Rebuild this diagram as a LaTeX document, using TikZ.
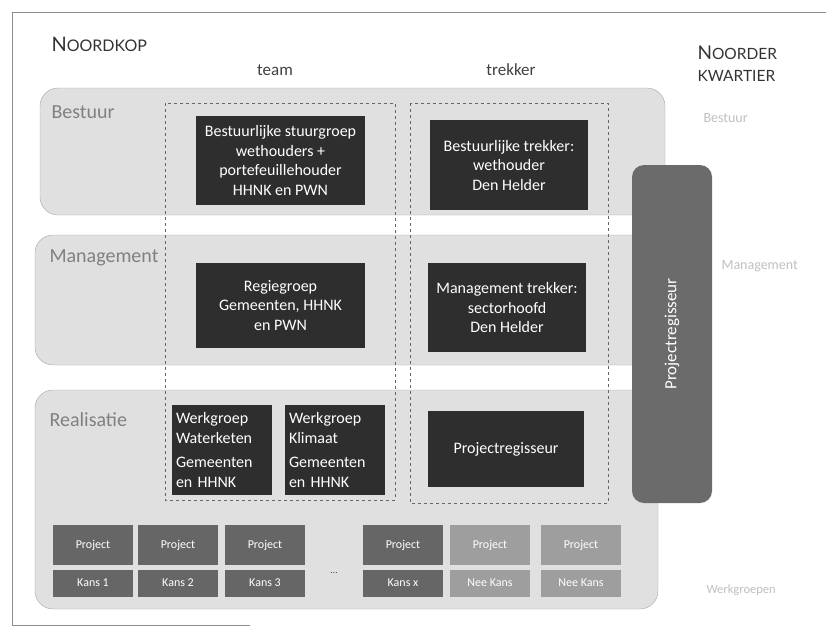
\documentclass[tikz,border=0pt]{standalone}
\usepackage{fontspec}
\setmainfont{Carlito}
\newfontfamily\headfont{Lato}

\begin{document}
\begin{tikzpicture}[x=1pt,y=-1pt,
    band/.style={draw=black!35,fill=black!12,rounded corners=18pt,thin},
    column/.style={draw=black!60,dashed,thin},
    darkbox/.style={fill=black!82,text=white,align=center,inner sep=2pt,
      font=\fontsize{16}{19.5}\selectfont},
    workbox/.style={darkbox,align=left,minimum width=100pt,minimum height=90pt,
      text width=92pt},
    projbox/.style={fill=black!60,text=white,minimum width=80pt,minimum height=40pt,
      inner sep=0pt,font=\fontsize{12}{12}\selectfont},
    kansbox/.style={projbox,minimum height=27pt},
    levellabel/.style={anchor=west,text=black!50,font=\fontsize{20}{20}\selectfont},
    farlabel/.style={anchor=west,text=black!25,font=\fontsize{14}{14}\selectfont},
    colhead/.style={text=black!75,font=\fontsize{17}{17}\selectfont}]
      \useasboundingbox (0,0) rectangle (826,634);
      % scanned page edge
      \draw [black!45,thin] (826,12) -- (12,12) -- (12,625) -- (250,625);
      % headers
      \node [anchor=west,text=black!80,font=\headfont] (nk) at (48,44)
        {{\fontsize{20}{20}\selectfont N}{\fontsize{16}{16}\selectfont OORDKOP}};
      \node [anchor=west,text=black!80,align=left,font=\headfont\fontsize{15.5}{22}\selectfont] (nq) at (694,64)
        {{\fontsize{19}{19}\selectfont N}OORDER\\KWARTIER};
      \node [colhead] (team) at (275,70) {team};
      \node [colhead] (trek) at (511,70) {trekker};
      % levels
      \draw [band] (40,88) rectangle (665,215);
      \draw [band] (35,235) rectangle (665,365);
      \draw [band] (35,390) rectangle (658,609);
      \node [levellabel] (lb) at (48,112) {Bestuur};
      \node [levellabel] (lm) at (46,258) {Management};
      \node [levellabel] (lr) at (46,420) {Realisatie};
      % columns
      \draw [column] (165,103) rectangle (395,500);
      \draw [column] (410,103) rectangle (608,503);
      % boxes
      \node [darkbox,minimum width=169pt,minimum height=89pt] (stuur) at (280.5,160.5)
        {Bestuurlijke stuurgroep\\wethouders +\\portefeuillehouder\\HHNK en PWN};
      \node [darkbox,minimum width=158pt,minimum height=90pt] (btrek) at (509,165)
        {Bestuurlijke trekker:\\wethouder\\Den Helder};
      \node [darkbox,minimum width=169pt,minimum height=85pt] (regie) at (280.5,305.5)
        {Regiegroep\\Gemeenten, HHNK\\en PWN};
      \node [darkbox,minimum width=158pt,minimum height=89pt] (mtrek) at (507,307.5)
        {Management trekker:\\sectorhoofd\\Den Helder};
      \node [workbox] (water) at (222,450)
        {Werkgroep\\Waterketen\\[5pt]Gemeenten\\en HHNK};
      \node [workbox] (klim) at (335,450)
        {Werkgroep\\Klimaat\\[5pt]Gemeenten\\en HHNK};
      \node [darkbox,minimum width=156pt,minimum height=76pt] (preg) at (506,449)
        {Projectregisseur};
      \node [fill=black!58,text=white,rounded corners=12pt,rotate=90,minimum width=338pt,
        minimum height=80pt,font=\fontsize{17}{17}\selectfont] (bar) at (672,334) {Projectregisseur};
      % projects
      \foreach \x/\k in {93/Kans 1,178/Kans 2,265/Kans 3,403/Kans x} {
        \node [projbox] (p\x) at (\x,545) {Project};
        \node [kansbox] (k\x) at (\x,583) {\k};
      }
      \foreach \x in {490,581} {
        \node [projbox,fill=black!38] (p\x) at (\x,545) {Project};
        \node [kansbox,fill=black!38] (k\x) at (\x,583) {Nee Kans};
      }
      \node [text=black!70] (dots) at (334,573) {\dots};
      % Noorderkwartier levels
      \node [farlabel] (qb) at (700,118) {Bestuur};
      \node [farlabel] (qm) at (718,266) {Management};
      \node [farlabel,font=\fontsize{12.5}{12.5}\selectfont] (qr) at (703,590) {Werkgroepen};
\end{tikzpicture}
\end{document}
